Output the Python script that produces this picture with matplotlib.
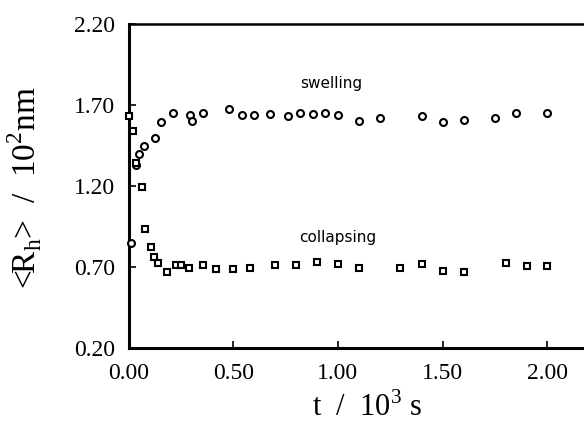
import matplotlib
matplotlib.use("Agg")
import matplotlib.pyplot as plt

# swelling (circles)
t_swell = [0.012, 0.036, 0.048, 0.075, 0.123, 0.154, 0.213, 0.291, 0.302, 0.357,
           0.479, 0.540, 0.600, 0.677, 0.760, 0.819, 0.879, 0.938, 0.999, 1.099,
           1.201, 1.401, 1.501, 1.601, 1.753, 1.852, 2.000]
r_swell = [0.847, 1.330, 1.398, 1.444, 1.495, 1.594, 1.653, 1.639, 1.604, 1.649,
           1.674, 1.639, 1.639, 1.643, 1.633, 1.653, 1.643, 1.653, 1.639, 1.604,
           1.618, 1.633, 1.598, 1.608, 1.618, 1.649, 1.649]

# collapsing (squares)
t_coll = [0.003, 0.018, 0.034, 0.064, 0.079, 0.105, 0.120, 0.138, 0.184, 0.227,
          0.248, 0.290, 0.356, 0.418, 0.499, 0.581, 0.699, 0.799, 0.899, 0.999,
          1.099, 1.299, 1.401, 1.501, 1.601, 1.802, 1.902, 2.000]
r_coll = [1.635, 1.542, 1.341, 1.193, 0.934, 0.823, 0.759, 0.724, 0.669, 0.710,
          0.710, 0.693, 0.710, 0.687, 0.689, 0.693, 0.710, 0.710, 0.728, 0.720,
          0.693, 0.693, 0.718, 0.673, 0.669, 0.724, 0.704, 0.704]

xticks = [0.0, 0.5, 1.0, 1.5, 2.0]
xticklabels = ["0.00", "0.50", "1.00", "1.50", "2.00"]
yticks = [0.2, 0.7, 1.2, 1.7, 2.2]
yticklabels = ["0.20", "0.70", "1.20", "1.70", "2.20"]

plt.rcParams['font.family'] = ['Liberation Serif', 'DejaVu Serif']
plt.rcParams['mathtext.fontset'] = 'custom'
plt.rcParams['mathtext.rm'] = 'Liberation Serif'

fig = plt.figure(figsize=(5.84, 4.32), dpi=100)
ax = fig.add_axes([0.2205, 0.1944, 0.788, 0.75])

ax.plot(t_swell, r_swell, linestyle='none', marker='o', markersize=5,
        markerfacecolor='white', markeredgecolor='black', markeredgewidth=1.5,
        clip_on=False, zorder=3)
ax.plot(t_coll, r_coll, linestyle='none', marker='s', markersize=5,
        markerfacecolor='white', markeredgecolor='black', markeredgewidth=1.5,
        clip_on=False, zorder=3)

ax.set_xlim(0, 2.2)
ax.set_ylim(0.2, 2.2)
ax.set_xticks(xticks)
ax.set_xticklabels(xticklabels)
ax.set_yticks(yticks)
ax.set_yticklabels(yticklabels)
ax.tick_params(direction='in', length=5, width=1.2, labelsize=17)
ax.tick_params(axis='y', pad=10)
ax.tick_params(axis='x', pad=11)

ax.spines['left'].set_linewidth(2.2)
ax.spines['bottom'].set_linewidth(2.2)
ax.spines['top'].set_linewidth(1.8)
ax.spines['right'].set_linewidth(1.8)

ax.text(0.97, 1.83, "swelling", fontsize=11, ha='center', va='center',
        family=['DejaVu Sans'])
ax.text(1.0, 0.88, "collapsing", fontsize=11, ha='center', va='center',
        family=['DejaVu Sans'])

ax.set_xlabel(r"t  /  10$^{\mathrm{3}}$ s", fontsize=22)
ax.set_ylabel(r"<R$_{\mathrm{h}}$>  /  10$^{\mathrm{2}}$nm", fontsize=24)
ax.xaxis.set_label_coords(0.517, -0.136)
ax.yaxis.set_label_coords(-0.185, 0.494)

fig.savefig("out.png", dpi=100)
